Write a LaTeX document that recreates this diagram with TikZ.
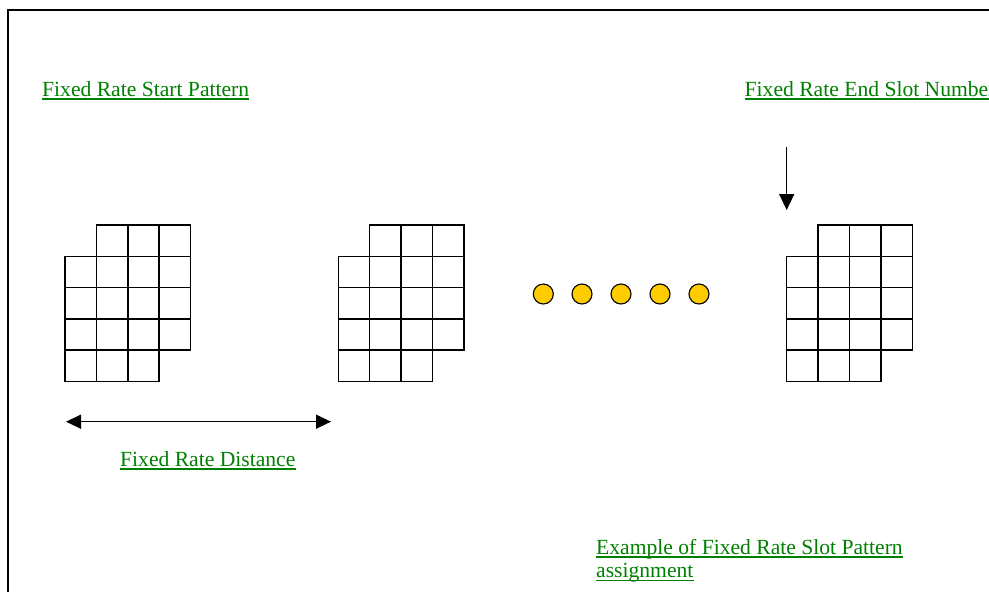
\documentclass[tikz,border=0pt]{standalone}
\usepackage{fontspec}
\setmainfont{Liberation Serif}
\usetikzlibrary{arrows.meta,calc}
\definecolor{lblgreen}{RGB}{0,128,0}
\definecolor{dotgold}{RGB}{255,204,0}
\tikzset{
  lbl/.style={anchor=base west,inner sep=0pt,text=lblgreen,font=\fontsize{21.6}{23.5}\selectfont},
  uline/.style={draw=lblgreen,line width=1.2pt},
  cell/.style={draw=black,line width=1.5pt},
  dotnode/.style={circle,draw=black,line width=1.1pt,fill=dotgold,minimum size=20pt,inner sep=0pt},
  arr/.style={line width=1.5pt,-{Triangle[length=16pt,width=15pt]}},
  darr/.style={line width=1.5pt,{Triangle[length=15pt,width=14pt]}-{Triangle[length=15pt,width=14pt]}}
}
\newcommand{\slotgrid}[2]{%
  \foreach \cx/\cy in {1/0,2/0,3/0,0/1,1/1,2/1,3/1,0/2,1/2,2/2,3/2,0/3,1/3,2/3,3/3,0/4,1/4,2/4}{
    \draw[cell] ({#1+\cx*31.4},{#2+\cy*31.3}) rectangle ++(31.4,31.3);
  }%
}
\begin{document}
\begin{tikzpicture}[x=1pt,y=-1pt]
\useasboundingbox (0,0) rectangle (989,592);
\clip (0,0) rectangle (989,592);
% frame
\draw[line width=1.5pt] (8,600) -- (8,10) -- (1000,10);
% grids
\slotgrid{65}{225}
\slotgrid{338.3}{225}
\slotgrid{786.7}{225}
% labels
\node[lbl] (start) at (42,96) {Fixed Rate Start Pattern};
\draw[uline] ($(start.base west)+(0,3)$) -- ($(start.base east)+(0,3)$);
\node[lbl] (endslot) at (744.5,96) {Fixed Rate End Slot Number};
\draw[uline] ($(endslot.base west)+(0,3)$) -- ($(endslot.base east)+(0,3)$);
\node[lbl] (dist) at (120,466) {Fixed Rate Distance};
\draw[uline] ($(dist.base west)+(0,3)$) -- ($(dist.base east)+(0,3)$);
\node[lbl] (ex1) at (596,554) {Example of Fixed Rate Slot Pattern};
\draw[uline] ($(ex1.base west)+(0,3)$) -- ($(ex1.base east)+(0,3)$);
\node[lbl] (ex2) at (596,577.5) {assignment};
\draw[uline] ($(ex2.base west)+(0,3)$) -- ($(ex2.base east)+(0,3)$);
% arrows
\coordinate (dtop) at (786.7,147);
\coordinate (dtip) at (786.7,210);
\draw[arr] (dtop) -- (dtip);
\coordinate (dl) at (66,421.7);
\coordinate (dr) at (331,421.7);
\draw[darr] (dl) -- (dr);
% dots
\foreach \i/\x in {1/543.3,2/582,3/621,4/660,5/699}{
  \node[dotnode] (dot\i) at (\x,294) {};
}
\end{tikzpicture}
\end{document}
